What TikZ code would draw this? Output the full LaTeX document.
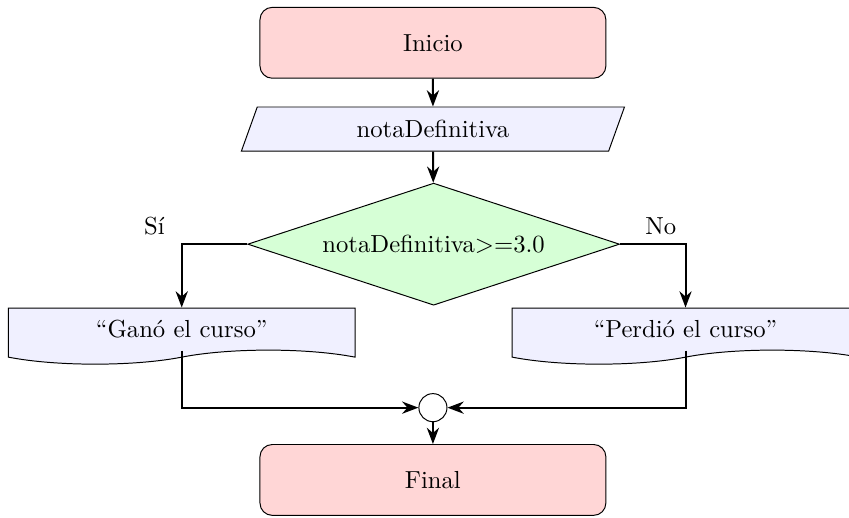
\documentclass[tikz,border=0pt]{standalone}
\usetikzlibrary{shapes.geometric, shapes.symbols, arrows.meta, positioning}

\begin{document}
\begin{tikzpicture}[
    >=Stealth,
    terminal/.style={draw, rounded corners=5pt, fill=red!16, minimum width=4.93cm, minimum height=1.01cm},
    dataio/.style={draw, trapezium, trapezium left angle=60, trapezium right angle=120, trapezium stretches body, fill=blue!6, minimum width=5.46cm, minimum height=0.63cm, inner ysep=2pt},
    decision/.style={draw, diamond, fill=green!16, aspect=3.05, minimum width=5.3cm, minimum height=1.74cm, inner sep=0pt},
    docbox/.style={draw, tape, tape bend top=none, tape bend height=0.2cm, fill=blue!6, minimum width=4.94cm, minimum height=0.8cm},
    joint/.style={draw, circle, minimum size=0.4cm, inner sep=0pt},
    flow/.style={->, thick}
]
\useasboundingbox (0,0) rectangle (12.10,-7.37);

% ── Main Column ──
\node[terminal] (inicio) at (6.17, -0.61) {Inicio};
\node[dataio] (leer) at (6.17, -1.84) {notaDefinitiva};
\node[decision] (cond) at (6.18, -3.48) {notaDefinitiva>=3.0};

% ── Branches ──
\node[docbox] (gano) at (2.59, -4.69) {``Ganó el curso''};
\node[docbox] (perdio) at (9.77, -4.69) {``Perdió el curso''};

% ── Merge and End ──
\node[joint] (union) at (6.17, -5.81) {};
\node[terminal] (final) at (6.17, -6.84) {Final};

% ── Arrows ──
\draw[flow] (inicio) -- (leer);
\draw[flow] (leer) -- (cond);
\draw[flow] (cond.west) -| node[pos=0.5, above left, xshift=-0.11cm] {Sí} (gano.north);
\draw[flow] (cond.east) -| node[pos=0.5, above left] {No} (perdio.north);
\draw[flow] (gano.south) |- (union.west);
\draw[flow] (perdio.south) |- (union.east);
\draw[flow] (union) -- (final);
\end{tikzpicture}
\end{document}
